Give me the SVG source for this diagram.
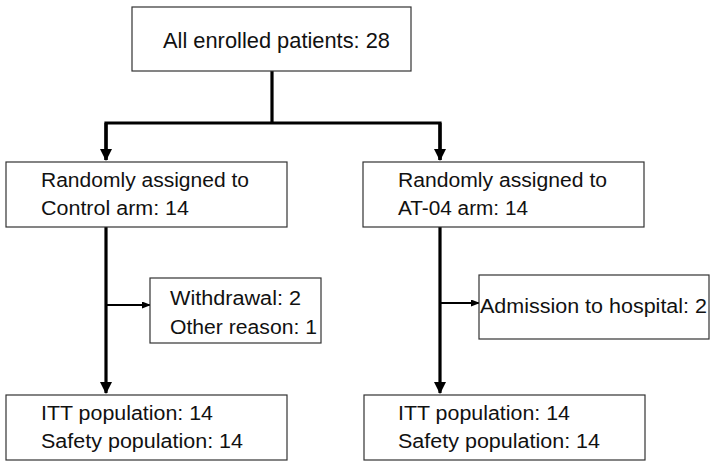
<svg xmlns="http://www.w3.org/2000/svg" width="715" height="467" viewBox="0 0 715 467">
<style>
.box{fill:#fff;stroke:#333;stroke-width:1.2}
.t{font-family:"Liberation Sans",Arial,sans-serif;font-size:20px;fill:#111}
.tb{font-family:"Liberation Sans",Arial,sans-serif;font-size:22px;fill:#111}
.main{stroke:#000;stroke-width:3.2;fill:none}
.br{stroke:#000;stroke-width:2;fill:none}
</style>
<defs>
<marker id="big" markerUnits="userSpaceOnUse" markerWidth="12" markerHeight="12" refX="11" refY="6" orient="auto">
<path d="M0,0 L12,6 L0,12 z" fill="#000"/>
</marker>
<marker id="small" markerUnits="userSpaceOnUse" markerWidth="9" markerHeight="8" refX="8" refY="3.5" orient="auto">
<path d="M0,0 L9,3.5 L0,7 z" fill="#000"/>
</marker>
</defs>
<rect width="715" height="467" fill="#fff"/>
<g id="connectors">
<line class="main" x1="272" y1="71" x2="272" y2="123"/>
<polyline class="main" points="106,160 106,123 440,123 440,160" marker-end="none"/>
<line class="main" x1="106" y1="123" x2="106" y2="160" marker-end="url(#big)"/>
<line class="main" x1="440" y1="123" x2="440" y2="160" marker-end="url(#big)"/>
<line class="main" x1="106" y1="227" x2="106" y2="393" marker-end="url(#big)"/>
<line class="main" x1="440" y1="227" x2="440" y2="393" marker-end="url(#big)"/>
<line class="br" x1="106" y1="305" x2="150" y2="305" marker-end="url(#small)"/>
<line class="br" x1="440" y1="303" x2="479" y2="303" marker-end="url(#small)"/>
</g>
<g id="enrolled">
<rect class="box" x="132" y="7" width="279" height="64"/>
<text class="tb" x="163" y="48" textLength="227" lengthAdjust="spacingAndGlyphs">All enrolled patients: 28</text>
</g>
<g id="control">
<rect class="box" x="6" y="162" width="281" height="65"/>
<text class="t" x="41" y="187" textLength="208" lengthAdjust="spacingAndGlyphs">Randomly assigned to</text>
<text class="t" x="41" y="215" textLength="148" lengthAdjust="spacingAndGlyphs">Control arm: 14</text>
</g>
<g id="at04">
<rect class="box" x="363" y="162" width="281" height="65"/>
<text class="t" x="398" y="187" textLength="209" lengthAdjust="spacingAndGlyphs">Randomly assigned to</text>
<text class="t" x="398" y="215" textLength="130" lengthAdjust="spacingAndGlyphs">AT-04 arm: 14</text>
</g>
<g id="withdrawal">
<rect class="box" x="150" y="278" width="171" height="65"/>
<text class="t" x="170" y="305" textLength="131" lengthAdjust="spacingAndGlyphs">Withdrawal: 2</text>
<text class="t" x="170" y="334" textLength="147" lengthAdjust="spacingAndGlyphs">Other reason: 1</text>
</g>
<g id="admission">
<rect class="box" x="479" y="275" width="230" height="64"/>
<text class="t" x="480" y="313" textLength="227" lengthAdjust="spacingAndGlyphs">Admission to hospital: 2</text>
</g>
<g id="itt-control">
<rect class="box" x="6" y="395" width="281" height="65"/>
<text class="t" x="41" y="420" textLength="172" lengthAdjust="spacingAndGlyphs">ITT population: 14</text>
<text class="t" x="41" y="448" textLength="202" lengthAdjust="spacingAndGlyphs">Safety population: 14</text>
</g>
<g id="itt-at04">
<rect class="box" x="364" y="395" width="281" height="65"/>
<text class="t" x="398" y="420" textLength="172" lengthAdjust="spacingAndGlyphs">ITT population: 14</text>
<text class="t" x="398" y="448" textLength="202" lengthAdjust="spacingAndGlyphs">Safety population: 14</text>
</g>
</svg>
